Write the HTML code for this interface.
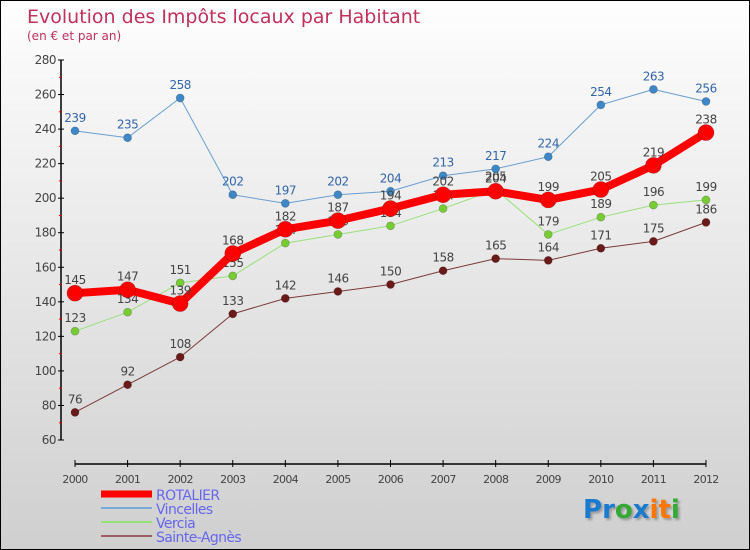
<!DOCTYPE html>
<html><head><meta charset="utf-8">
<style>
html,body{margin:0;padding:0}
body{width:750px;height:550px;overflow:hidden;font-family:"DejaVu Sans","Liberation Sans",sans-serif}
#wrap{position:relative;width:748px;height:548px;border:1px solid #000;background:linear-gradient(#fefefe,#cfcfcf)}
svg{position:absolute;left:0;top:0}
</style></head><body>
<div id="wrap">
<svg id="chart" width="748" height="548"></svg>
</div>
<script>
const years=[2000,2001,2002,2003,2004,2005,2006,2007,2008,2009,2010,2011,2012];
const rotalier=[145,147,139,168,182,187,194,202,204,199,205,219,238];
const vincelles=[239,235,258,202,197,202,204,213,217,224,254,263,256];
const vercia=[123,134,151,155,174,179,184,194,205,179,189,196,199];
const sainte=[76,92,108,133,142,146,150,158,165,164,171,175,186];
const yTicks=[60,80,100,120,140,160,180,200,220,240,260,280];
const NS="http://www.w3.org/2000/svg";
const svg=document.getElementById('chart');
const X=i=>74+i*(705-74)/(years.length-1);
const Y=v=>439-(v-60)*(380/220);
function mk(t,a,p){const e=document.createElementNS(NS,t);for(const k in a)e.setAttribute(k,a[k]);(p||svg).appendChild(e);return e;}
// title
let t=mk('text',{x:26,y:22,fill:'#c0305a','font-size':19});t.textContent='Evolution des Impôts locaux par Habitant';

t=mk('text',{x:26,y:39,fill:'#c0305a','font-size':12});t.textContent='(en € et par an)';

// y axis
const ya=mk('g',{});
mk('line',{x1:60,y1:Y(280),x2:60,y2:Y(60),stroke:'#000','stroke-width':1.5},ya);
yTicks.forEach((v,i)=>{mk('line',{x1:57,y1:Y(v),x2:63,y2:Y(v),stroke:'#000'},ya);
 const l=mk('text',{x:55,y:Y(v)+4,'text-anchor':'end','font-size':12,fill:'#444','letter-spacing':'-0.5'},ya);l.textContent=v;
 if(i<yTicks.length-1)mk('line',{x1:58,y1:Y(v+10),x2:61,y2:Y(v+10),stroke:'#e00'},ya);});
// x axis
const xa=mk('g',{});
mk('line',{x1:X(0),y1:463,x2:X(12),y2:463,stroke:'#000','stroke-width':1.5},xa);
years.forEach((y,i)=>{mk('line',{x1:X(i),y1:459,x2:X(i),y2:466,stroke:'#000'},xa);
 const l=mk('text',{x:X(i),y:482,'text-anchor':'middle','font-size':11,fill:'#444','letter-spacing':'-0.7'},xa);l.textContent=y;});
function series(name,data,color,dot,w,r,labCol){
 const g=mk('g',{});
 mk('polyline',{points:data.map((v,i)=>X(i)+','+Y(v)).join(' '),fill:'none',stroke:color,'stroke-width':w,'stroke-linejoin':'round'},g);
 data.forEach((v,i)=>{const c=mk('circle',{cx:X(i),cy:Y(v),r:r,fill:dot,stroke:'rgba(0,0,0,0.25)','stroke-width':0.7},g);
  
  const l=mk('text',{x:X(i),y:Y(v)-9,'text-anchor':'middle','font-size':12,fill:labCol,'letter-spacing':'-0.5'},g);l.textContent=v;});
}
series('sainte-agnes',sainte,'#7a3a3a','#6b1a1a',1,4,'#444');
series('vercia',vercia,'#99e07a','#77cc33',1,4,'#444');
series('vincelles',vincelles,'#6a9ed0','#3f88c8',1,4,'#3366aa');
series('rotalier',rotalier,'#ff0000','#ff0000',8,8,'#444');
// legend
const lg=mk('g',{});
[['ROTALIER','#ff0000',7,497],['Vincelles','#7aaad8',2,511],['Vercia','#99e07a',2,525],['Sainte-Agnès','#9a6060',2,539]].forEach(([n,c,w,y])=>{
 const e=mk('g',{},lg);
 mk('line',{x1:100,y1:y-4,x2:151,y2:y-4,stroke:c,'stroke-width':w},e);
 const l=mk('text',{x:155,y:y+2,'font-size':14,fill:'#6666ee','letter-spacing':'-0.6'},e);l.textContent=n;});
// logo
const lo=mk('text',{x:582,y:517,'font-size':26,'font-weight':'bold','font-family':'"DejaVu Sans",sans-serif'});

lo.setAttribute('style','text-shadow:2px 2px 2px #999');
[['P','#1a7ad0'],['r','#1a7ad0'],['o','#33aa33'],['x','#1a7ad0'],['i','#ff7700'],['t','#ff7700'],['i','#33aa33']].forEach(([ch,c])=>{const s=mk('tspan',{fill:c},lo);s.textContent=ch;});
</script>
</body></html>
